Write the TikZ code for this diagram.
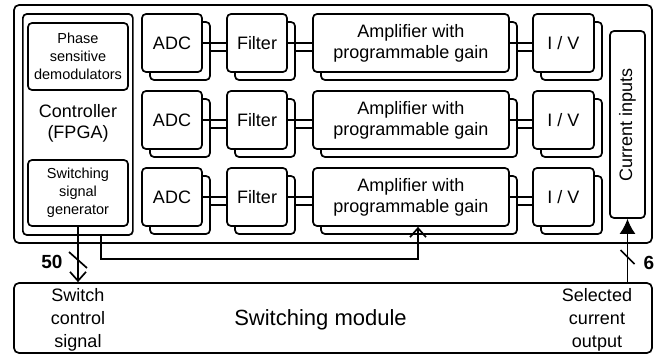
\documentclass[tikz,border=0pt]{standalone}
\usepackage{fontspec}
\setmainfont{Liberation Sans}
\usetikzlibrary{arrows.meta}
\tikzset{
  blk/.style={draw, fill=white, rounded corners=4pt, inner sep=0pt, align=center,
    font=\fontsize{18}{21}\selectfont},
  smalltext/.style={font=\fontsize{14.5}{18}\selectfont},
  label/.style={align=center, font=\fontsize{18}{23}\selectfont},
  bignum/.style={font=\fontsize{19}{22}\selectfont\bfseries},
  openarrow/.style={-{Straight Barb[length=9pt,width=16pt]}},
  fullarrow/.style={-{Latex[length=15pt,width=16pt]}},
}
\begin{document}
\begin{tikzpicture}[x=1pt,y=-1pt,line width=1.7pt]
  \useasboundingbox (0,0) rectangle (662,358);
  % digital board frame
  \draw[rounded corners=5pt] (14,5) rectangle (652,243);
  \node[blk, minimum width=110pt, minimum height=221pt] (ctrl) at (77.85,124.5) {};
  \node[label, font=\fontsize{18}{21}\selectfont] (ctrltext) at (78,123) {Controller\\(FPGA)};
  \node[blk, smalltext, minimum width=100pt, minimum height=67pt] (psd) at (78,56.5) {Phase\\sensitive\\demodulators};
  \node[blk, smalltext, minimum width=100pt, minimum height=66pt] (ssg) at (78,193) {Switching\\signal\\generator};
  % three channels, each with a copy behind
  \foreach \r/\y in {1/43,2/120,3/197}{
    \foreach \n/\x/\w/\t in {adc/172/60/ADC, filt/257/60/Filter,
        amp/411/196/{Amplifier with\\programmable gain}, iv/563.5/61/{I / V}}{
      \node[blk, minimum width=\w pt, minimum height=58pt] (\n\r-s) at (\x+8,\y+8) {};
      \node[blk, minimum width=\w pt, minimum height=58pt] (\n\r) at (\x,\y) {\t};
    }
    \draw (adc\r.east) -- (filt\r.west);
    \draw (adc\r-s.east) -- (filt\r.west |- adc\r-s.east);
    \draw (filt\r.east) -- (amp\r.west);
    \draw (filt\r-s.east) -- (amp\r.west |- filt\r-s.east);
    \draw (amp\r.east) -- (iv\r.west);
    \draw (amp\r-s.east) -- (iv\r.west |- amp\r-s.east);
  }
  \node[blk, minimum width=35pt, minimum height=187pt] (cur) at (627.5,124.5) {};
  \node[rotate=90, font=\fontsize{18}{21}\selectfont] (curtext) at (cur.center) {Current inputs};
  % switching module
  \node[draw, rounded corners=5pt, minimum width=638pt, minimum height=70pt] (swm) at (333,318) {};
  \node[font=\fontsize{22}{26}\selectfont] (swmtext) at (320.5,320) {Switching module};
  \node[label] (sctext) at (78,320) {Switch\\control\\signal};
  \node[label] (outtext) at (597,320) {Selected\\current\\output};
  % connections
  \draw[openarrow] (ssg.south) -- (ssg.south |- swm.north);
  \coordinate (gain) at (418,259);
  \draw[openarrow] ([xshift=23pt]ctrl.south) |- (gain) -- (gain |- amp3.south);
  \draw[fullarrow] (cur.south |- swm.north) -- (cur.south);
  % bus widths
  \coordinate (bus50) at (78,260);
  \coordinate (bus6) at (627.5,257);
  \draw ([shift={(-9,-8)}]bus50) -- ([shift={(9,8)}]bus50);
  \draw ([shift={(-7,-7)}]bus6) -- ([shift={(7,7)}]bus6);
  \node[bignum] (n50) at (52,262) {50};
  \node[bignum] (n6) at (649,263) {6};
\end{tikzpicture}
\end{document}
